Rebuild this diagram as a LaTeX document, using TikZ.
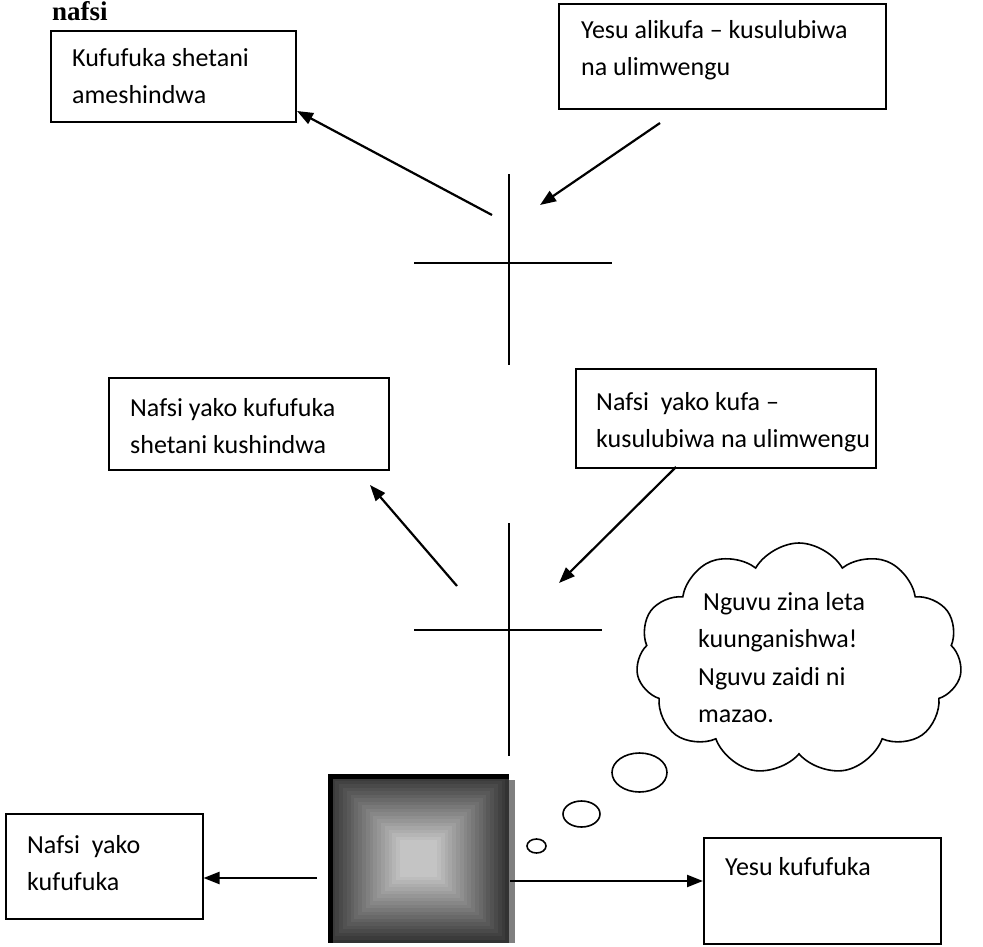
\documentclass[tikz,border=0pt]{standalone}
\usepackage{fontspec}
\setmainfont{Carlito}
\newfontfamily\serifbold{Liberation Serif}
\usetikzlibrary{arrows.meta,shapes.symbols,shapes.geometric,calc}
\newcommand\tstrut{\rule{0pt}{26pt}}
\begin{document}
\begin{tikzpicture}[x=1pt,y=-1pt,
  boxnode/.style={draw,line width=1.5pt,rectangle,inner sep=0pt,anchor=north west},
  txt/.style={anchor=north west,inner sep=0pt,align=left,font=\fontsize{26}{37}\selectfont},
  arr/.style={line width=2.2pt,-{Triangle[length=16pt,width=12pt]}},
  crossline/.style={line width=2pt},
  bubble/.style={draw,line width=1.6pt,ellipse}]
\useasboundingbox (0,0) rectangle (983,946);

% title
\node[anchor=base west,inner sep=0pt,font=\serifbold\bfseries\fontsize{27}{30}\selectfont] (title) at (52,20) {nafsi};

% top boxes
\node[boxnode,minimum width=245pt,minimum height=91pt] (box1) at (50,30) {};
\node[txt] (t1) at (72,40) {\tstrut Kufufuka shetani\\ameshindwa};
\node[boxnode,minimum width=327pt,minimum height=105pt] (box2) at (558,3) {};
\node[txt] (t2) at (581,12) {\tstrut Yesu alikufa -- kusulubiwa\\na ulimwengu};

% cross 1
\draw[crossline] (509,174) -- (509,365);
\draw[crossline] (414,263) -- (612,263);
\coordinate (a1s) at (492,215);
\coordinate (a1e) at (297,111);
\draw[arr] (a1s) -- (a1e);
\coordinate (a2s) at (660,123);
\coordinate (a2e) at (540,205);
\draw[arr] (a2s) -- (a2e);

% middle boxes
\node[boxnode,minimum width=280pt,minimum height=92pt] (box3) at (108,377) {};
\node[txt] (t3) at (130,390) {\tstrut Nafsi yako kufufuka\\shetani kushindwa};
\node[boxnode,minimum width=300pt,minimum height=99pt] (box4) at (575,368) {};
\node[txt] (t4) at (596,384) {\tstrut Nafsi\ \ yako kufa --\\kusulubiwa na ulimwengu};

% cross 2
\draw[crossline] (509,523) -- (509,756);
\draw[crossline] (414,630) -- (602,630);
\coordinate (a3s) at (457,586);
\coordinate (a3e) at (370,485);
\draw[arr] (a3s) -- (a3e);
\coordinate (a4s) at (676,467);
\coordinate (a4e) at (559,583);
\draw[arr] (a4s) -- (a4e);

% cloud
\node[cloud,draw,line width=1.6pt,cloud puffs=11,cloud puff arc=120,minimum width=326pt,minimum height=232pt,inner sep=0pt] (cl) at (799,659) {};
\node[txt,font=\fontsize{26}{37.5}\selectfont] (tc) at (698,584) {\tstrut\hspace{5pt}Nguvu zina leta\\kuunganishwa!\\Nguvu zaidi ni\\mazao.};
\node[bubble,minimum width=55pt,minimum height=39pt,inner sep=0pt] (b1) at (639.5,772.5) {};
\node[bubble,minimum width=37pt,minimum height=26pt,inner sep=0pt] (b2) at (581.5,814) {};
\node[bubble,minimum width=19pt,minimum height=14pt,inner sep=0pt] (b3) at (536.5,846) {};

% gradient square
\node[inner sep=0pt,minimum width=181pt,minimum height=169pt] (sq) at (418.5,858.5) {};
\fill[black!50] ($(sq.north east)+(0,6)$) rectangle ($(sq.south east)+(6,0)$);
\foreach \i in {0,...,19} {
  \pgfmathtruncatemacro\g{20+3*\i}
  \fill[white!\g!black] ($(sq.north west)+(\i*3.8,\i*3.5)$) rectangle ($(sq.south east)+(-\i*3.8,-\i*3.5)$);
}
\fill[black] (sq.north west) rectangle ($(sq.south west)+(5,0)$);
\fill[black] (sq.north west) rectangle ($(sq.north east)+(0,5)$);

% bottom boxes
\node[boxnode,minimum width=197pt,minimum height=105pt] (box5) at (5,813) {};
\node[txt] (t5) at (27,827) {\tstrut Nafsi\ \ yako\\kufufuka};
\node[boxnode,minimum width=237pt,minimum height=106pt] (box6) at (703,837) {};
\node[txt] (t6) at (725,849) {\tstrut Yesu kufufuka};

\coordinate (a5s) at (317,878);
\draw[arr] (a5s) -- (a5s -| box5.east);
\coordinate (a6s) at (510,881);
\draw[arr] (a6s) -- (a6s -| box6.west);
\end{tikzpicture}
\end{document}
